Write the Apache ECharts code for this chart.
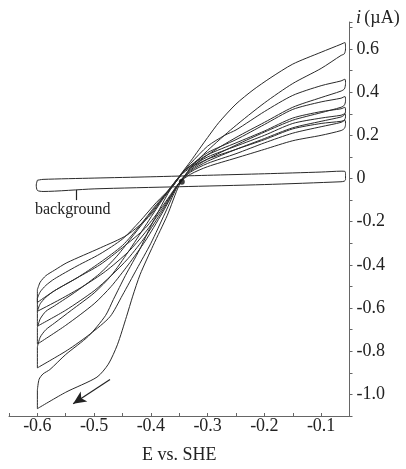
<!DOCTYPE html>
<html><head><meta charset="utf-8">
<script src="https://cdn.jsdelivr.net/npm/echarts@6/dist/echarts.min.js"></script>
<style>html,body{margin:0;padding:0;background:#fff}#c{width:406px;height:469px}</style>
</head><body><div id="c"></div>
<script>
// ---- data (E vs. SHE in V, current in µA) ----
const loopA_anodic = [[-0.600,-0.980],[-0.597,-0.930],[-0.590,-0.905],[-0.578,-0.885],[-0.550,-0.815],[-0.510,-0.730],[-0.480,-0.635],[-0.466,-0.560],[-0.445,-0.450],[-0.420,-0.330],[-0.400,-0.220],[-0.370,-0.070],[-0.350,0.010],[-0.330,0.080],[-0.300,0.190],[-0.280,0.260],[-0.250,0.345],[-0.220,0.410],[-0.190,0.465],[-0.150,0.530],[-0.100,0.585],[-0.065,0.622],[-0.058,0.630]];
const loopA_cathodic = [[-0.057,0.600],[-0.059,0.578],[-0.065,0.570],[-0.100,0.510],[-0.150,0.440],[-0.200,0.350],[-0.255,0.235],[-0.300,0.130],[-0.330,0.050],[-0.350,-0.030],[-0.371,-0.170],[-0.396,-0.310],[-0.419,-0.445],[-0.432,-0.545],[-0.443,-0.640],[-0.459,-0.770],[-0.475,-0.860],[-0.495,-0.920],[-0.550,-0.990],[-0.600,-1.066]];

const loopB_anodic = [[-0.600,-0.780],[-0.595,-0.735],[-0.585,-0.700],[-0.570,-0.670],[-0.540,-0.610],[-0.500,-0.530],[-0.470,-0.450],[-0.440,-0.340],[-0.410,-0.220],[-0.380,-0.100],[-0.360,-0.030],[-0.340,0.040],[-0.330,0.070],[-0.300,0.150],[-0.270,0.200],[-0.250,0.225],[-0.200,0.310],[-0.150,0.385],[-0.100,0.430],[-0.065,0.452],[-0.058,0.460]];
const loopB_cathodic = [[-0.057,0.440],[-0.059,0.415],[-0.065,0.405],[-0.100,0.375],[-0.150,0.330],[-0.200,0.260],[-0.250,0.190],[-0.300,0.110],[-0.330,0.045],[-0.350,-0.020],[-0.375,-0.160],[-0.400,-0.300],[-0.425,-0.420],[-0.450,-0.540],[-0.472,-0.640],[-0.507,-0.720],[-0.547,-0.795],[-0.600,-0.877]];

const loopC_anodic = [[-0.600,-0.690],[-0.595,-0.650],[-0.585,-0.615],[-0.570,-0.590],[-0.530,-0.520],[-0.490,-0.440],[-0.460,-0.360],[-0.430,-0.260],[-0.400,-0.160],[-0.370,-0.060],[-0.350,0.010],[-0.330,0.060],[-0.300,0.120],[-0.250,0.180],[-0.200,0.250],[-0.150,0.320],[-0.100,0.355],[-0.065,0.372],[-0.058,0.380]];
const loopC_cathodic = [[-0.057,0.360],[-0.059,0.340],[-0.065,0.330],[-0.100,0.305],[-0.150,0.270],[-0.200,0.215],[-0.250,0.155],[-0.300,0.090],[-0.330,0.040],[-0.350,-0.020],[-0.380,-0.160],[-0.410,-0.290],[-0.440,-0.400],[-0.470,-0.500],[-0.500,-0.580],[-0.550,-0.680],[-0.600,-0.767]];

const loopD_anodic = [[-0.600,-0.615],[-0.595,-0.580],[-0.585,-0.550],[-0.570,-0.520],[-0.530,-0.460],[-0.490,-0.390],[-0.450,-0.310],[-0.420,-0.220],[-0.390,-0.120],[-0.360,-0.030],[-0.340,0.040],[-0.330,0.060],[-0.300,0.110],[-0.250,0.165],[-0.200,0.220],[-0.150,0.280],[-0.100,0.310],[-0.065,0.323],[-0.058,0.330]];
const loopD_cathodic = [[-0.057,0.312],[-0.059,0.295],[-0.065,0.285],[-0.100,0.265],[-0.150,0.235],[-0.200,0.185],[-0.250,0.135],[-0.300,0.080],[-0.330,0.035],[-0.350,-0.020],[-0.380,-0.150],[-0.410,-0.270],[-0.440,-0.370],[-0.470,-0.450],[-0.500,-0.520],[-0.550,-0.610],[-0.600,-0.684]];

const loopE_anodic = [[-0.600,-0.555],[-0.595,-0.525],[-0.585,-0.495],[-0.570,-0.465],[-0.530,-0.405],[-0.490,-0.350],[-0.450,-0.280],[-0.420,-0.200],[-0.390,-0.110],[-0.360,-0.030],[-0.340,0.040],[-0.330,0.055],[-0.300,0.100],[-0.250,0.150],[-0.200,0.200],[-0.150,0.255],[-0.100,0.280],[-0.065,0.293],[-0.058,0.300]];
const loopE_cathodic = [[-0.057,0.285],[-0.059,0.270],[-0.065,0.260],[-0.100,0.240],[-0.150,0.210],[-0.200,0.165],[-0.250,0.115],[-0.300,0.070],[-0.330,0.030],[-0.350,-0.020],[-0.380,-0.140],[-0.410,-0.250],[-0.440,-0.340],[-0.480,-0.430],[-0.520,-0.500],[-0.560,-0.560],[-0.600,-0.615]];

const loopF_anodic = [[-0.600,-0.515],[-0.595,-0.480],[-0.585,-0.450],[-0.570,-0.425],[-0.548,-0.390],[-0.489,-0.321],[-0.442,-0.262],[-0.401,-0.170],[-0.371,-0.060],[-0.348,0.014],[-0.330,0.050],[-0.300,0.090],[-0.250,0.135],[-0.200,0.180],[-0.150,0.230],[-0.100,0.255],[-0.065,0.265],[-0.058,0.270]];
const loopF_cathodic = [[-0.057,0.250],[-0.059,0.232],[-0.065,0.222],[-0.100,0.200],[-0.150,0.175],[-0.200,0.135],[-0.250,0.095],[-0.300,0.055],[-0.330,0.020],[-0.350,-0.020],[-0.380,-0.130],[-0.410,-0.230],[-0.450,-0.320],[-0.490,-0.400],[-0.530,-0.460],[-0.570,-0.520],[-0.600,-0.574]];

const background_anodic = [[-0.600,-0.008],[-0.590,-0.004],[-0.500,0.002],[-0.400,0.008],[-0.300,0.015],[-0.200,0.022],[-0.100,0.030],[-0.065,0.034],[-0.058,0.033],[-0.057,0.020]];
const background_cathodic = [[-0.057,-0.005],[-0.059,-0.012],[-0.065,-0.015],[-0.200,-0.028],[-0.350,-0.038],[-0.500,-0.048],[-0.590,-0.060],[-0.600,-0.055],[-0.602,-0.030]];

const crossingDot = [[-0.3455,-0.015]];
const arrowFrom = [-0.472,-0.931];
const arrowTo = [-0.537,-1.043];
const leaderFrom = [-0.532,-0.053];
const leaderTo = [-0.532,-0.100];

const xTickMin = -0.65, xTickMax = -0.05, xTickStep = 0.05;
const yTickMin = -1.1, yTickMax = 0.725, yTickStep = 0.1;
const xAxisTitle = 'E vs. SHE';
const backgroundLabel = 'background';

// ---- chart ----
const FONT = '"Liberation Serif", "DejaVu Serif", serif';
const LINE = '#2a2a2a';
function closedLoop(an, cat) { return an.concat(cat, [an[0]]); }
function loopSeries(name, an, cat) {
  return { name, type: 'line', data: closedLoop(an, cat), showSymbol: false, symbol: 'none',
    smooth: 0.25, lineStyle: { color: LINE, width: 1 }, z: 3 };
}
function fmt(v) {
  if (Math.abs(v) < 1e-9) return '0';
  return v.toFixed(1);
}
const chart = echarts.init(document.getElementById('c'), null, { renderer: 'canvas' });
chart.setOption({
  animation: false,
  backgroundColor: '#fff',
  grid: { left: 9, right: 56.5, top: 22, bottom: 48.5, containLabel: false },
  xAxis: {
    type: 'value', min: xTickMin, max: xTickMax, interval: xTickStep,
    name: xAxisTitle, nameLocation: 'middle', nameGap: 30,
    nameTextStyle: { fontFamily: FONT, fontSize: 18, color: '#222' },
    axisLine: { show: true, onZero: false, lineStyle: { color: '#666', width: 1 } },
    axisTick: { show: true, inside: true, length: 3, lineStyle: { color: '#666' } },
    splitLine: { show: false },
    axisLabel: { margin: 1, fontFamily: FONT, fontSize: 18, color: '#222',
      formatter: v => { const k = v * 10; return (Math.abs(k - Math.round(k)) < 1e-6) ? fmt(v) : ''; } }
  },
  yAxis: {
    type: 'value', position: 'right', min: yTickMin, max: yTickMax, interval: yTickStep,
    axisLine: { show: true, onZero: false, lineStyle: { color: '#666', width: 1 } },
    axisTick: { show: true, inside: false, length: 3, lineStyle: { color: '#666' } },
    splitLine: { show: false },
    axisLabel: { margin: 7, fontFamily: FONT, fontSize: 18, color: '#222',
      formatter: v => { const k = v * 5; return (Math.abs(k - Math.round(k)) < 1e-6) ? fmt(v) : ''; } }
  },
  graphic: [
    { type: 'text', left: 356, top: 9, style: { rich: { it: { fontFamily: FONT, fontStyle: 'italic', fontSize: 18, fill: '#222' }, n: { fontFamily: FONT, fontSize: 18, fill: '#222' } }, text: '{it|i} {n|(\u00b5A)}' } },
    { type: 'text', left: 35, top: 202, style: { text: backgroundLabel, fontFamily: FONT, fontSize: 16, fill: '#222' } }
  ],
  series: [
    loopSeries('A', loopA_anodic, loopA_cathodic),
    loopSeries('B', loopB_anodic, loopB_cathodic),
    loopSeries('C', loopC_anodic, loopC_cathodic),
    loopSeries('D', loopD_anodic, loopD_cathodic),
    loopSeries('E', loopE_anodic, loopE_cathodic),
    loopSeries('F', loopF_anodic, loopF_cathodic),
    Object.assign(loopSeries('background', background_anodic, background_cathodic), {
      markLine: { silent: true, animation: false, label: { show: false },
        data: [
          [{ coord: leaderFrom, symbol: 'none' }, { coord: leaderTo, symbol: 'none' }],
          [{ coord: arrowFrom, symbol: 'none' }, { coord: arrowTo, symbol: 'arrow', symbolSize: [9, 13] }]
        ],
        lineStyle: { color: '#222', width: 1.2, type: 'solid' } }
    }),
    { type: 'scatter', data: crossingDot, symbol: 'circle', symbolSize: 6, itemStyle: { color: '#111' }, z: 5 }
  ]
});
</script></body></html>
